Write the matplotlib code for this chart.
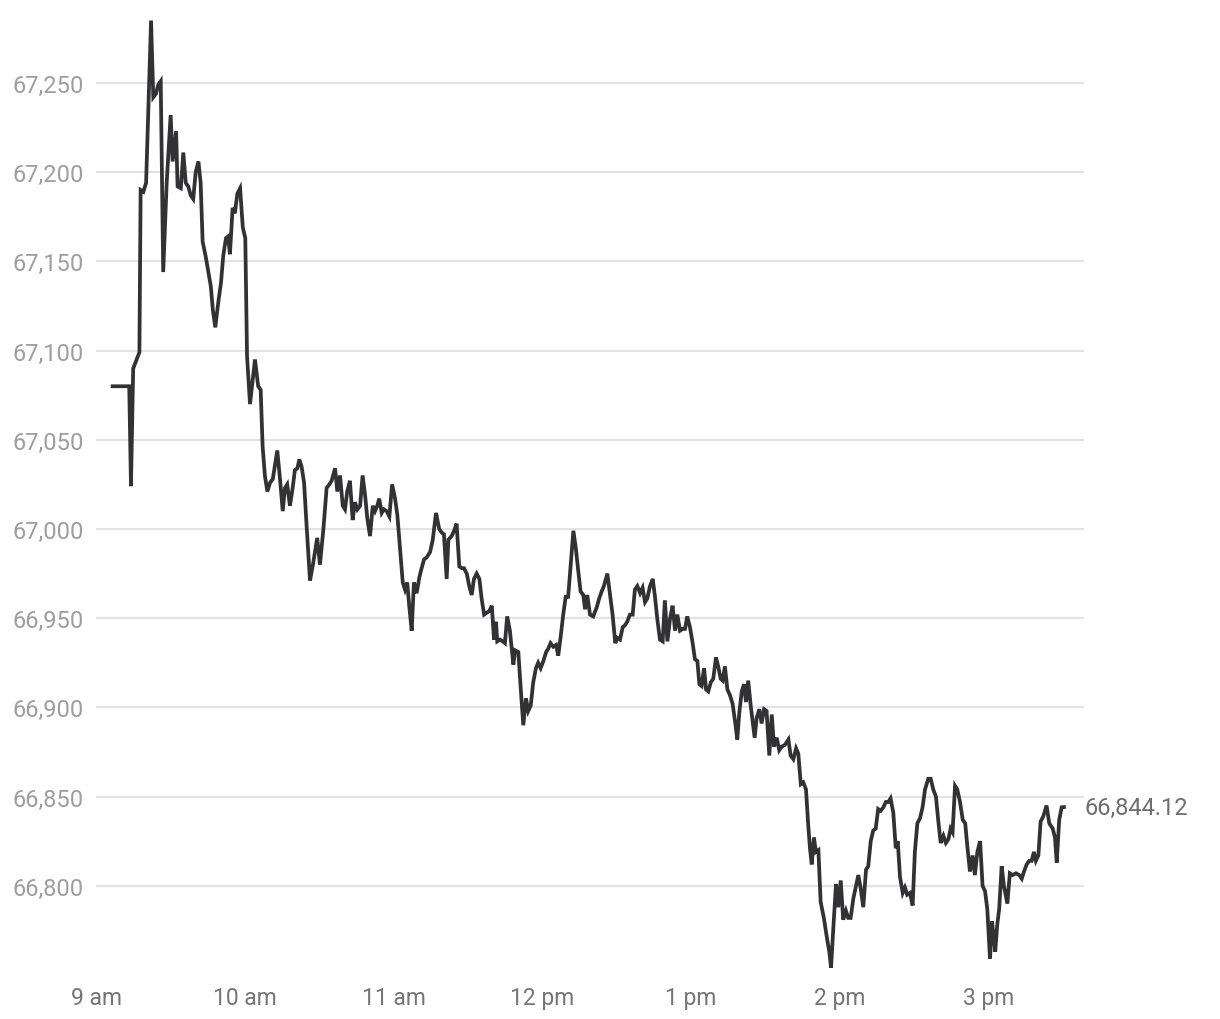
import matplotlib
matplotlib.use("Agg")
import matplotlib.pyplot as plt
from matplotlib.ticker import FuncFormatter, FixedLocator

# minutes after 9:00 am
minutes = [6.7, 13.4, 14.1, 15.0, 17.5, 18.0, 19.1, 20.2, 21.1, 22.2, 23.1, 24.2, 25.1, 26.1, 27.1, 28.5,
           30.1, 30.9, 32.3, 32.9, 34.2, 35.2, 36.2, 37.2, 38.2, 39.2, 40.2, 41.3, 42.2, 43.0, 44.2, 45.3,
           46.3, 47.1, 48.1, 49.3, 50.4, 51.3, 52.4, 53.3, 54.0, 55.1, 56.0, 57.0, 58.1, 59.2, 60.2,
           60.9, 62.1, 64.1, 65.4, 66.4, 67.2, 68.1, 69.1, 70.2, 71.3, 72.2, 73.1, 74.2, 75.3, 76.2, 77.1,
           78.2, 79.3, 80.2, 81.2, 82.0, 82.9, 83.9, 85.0, 86.3, 87.6, 89.2, 90.3, 91.7, 93.0, 94.1, 95.0,
           96.4, 97.3, 98.4, 99.5, 100.4, 101.3, 102.4, 103.5, 104.4, 105.4, 106.5, 107.5, 108.5, 109.4,
           110.5, 111.6, 112.5, 113.4, 114.2, 115.2, 116.1, 117.2, 118.3, 119.4, 120.6, 121.5,
           122.6, 123.7, 124.6, 125.5, 126.3, 127.3, 128.2, 129.3, 130.4, 131.3, 132.3, 133.3, 134.7,
           135.8, 137.1, 138.4, 139.4, 140.3, 141.4, 142.1, 143.4, 144.4, 145.4, 146.5, 147.5, 148.4,
           149.5, 150.5, 151.5, 152.4, 153.5, 154.6, 155.5, 156.5, 157.5, 158.6, 159.6, 160.5, 161.3,
           161.8, 162.9, 164.0, 164.9, 165.8, 166.9, 168.3, 169.0, 170.3, 171.2, 172.3, 173.4, 174.3,
           175.3, 176.3, 177.4, 178.3, 179.3, 180.4, 181.5, 182.4, 183.3, 184.4, 185.5, 186.4, 187.4,
           188.4, 189.4, 190.4, 191.4, 192.5, 193.5, 194.5,
           195.4, 196.5, 197.2, 198.1, 199.2, 200.5, 201.9, 202.9, 203.9, 204.8, 206.2, 207.3, 208.3,
           209.4, 210.2, 211.3, 212.4, 213.3, 214.2, 215.3, 216.4, 217.3, 218.3, 219.4, 220.4, 221.4,
           222.3, 223.4, 224.5, 225.4, 226.3, 227.4, 228.5, 229.4, 230.4, 231.5, 232.5, 233.5, 234.4,
           235.5, 236.6, 237.5, 238.4, 239.5, 240.6, 241.5, 242.5, 243.3, 244.2, 245.2, 246.0, 246.9,
           247.9, 248.9, 250.0, 250.9, 251.9, 252.7, 253.6, 254.6, 255.6, 256.7, 257.7, 258.6, 259.4,
           260.4, 261.3, 262.1, 263.0, 264.0, 264.8, 265.6, 266.4,
           267.5, 268.4, 269.4, 270.4, 271.5, 272.5, 273.4, 274.5, 275.5, 276.5, 277.8, 279.2, 280.1,
           281.2, 282.3, 283.2, 284.2, 285.2, 286.3, 287.2, 287.9, 288.6, 289.5, 290.3, 291.3, 292.2,
           293.5, 294.6, 295.7, 296.4, 297.3, 298.4, 299.3, 300.3, 301.3, 302.4, 303.3, 304.3, 305.4,
           306.5, 307.4, 308.3, 309.4, 310.5, 311.4, 312.4, 313.4, 314.4, 315.4, 316.4, 317.5, 318.5,
           319.5, 320.4, 321.5, 322.5, 323.3, 324.2, 325.3, 326.2, 327.1, 328.2, 329.3, 330.2, 331.2,
           332.3, 333.3, 334.3, 335.6, 336.6, 337.6, 338.7,
           339.6, 340.6, 341.7, 342.7, 343.7, 344.6, 345.4, 346.4, 347.3, 348.4, 349.5, 350.5, 351.3,
           352.4, 353.5, 354.4, 355.4, 356.5, 357.5, 358.5, 359.4, 360.5, 361.3, 362.1, 362.6, 363.4,
           364.2, 365.2, 366.1, 367.5, 368.5, 369.6, 371.0, 372.3, 373.3, 374.2, 375.3, 376.3, 377.3,
           378.2, 379.0, 380.0, 380.9, 382.0, 383.3, 384.4, 385.8, 386.7, 387.4, 388.4, 389.4, 390.3]

prices = [67080, 67080, 67024, 67090, 67099, 67190, 67189, 67194, 67235, 67285, 67242, 67244, 67249, 67251, 67144, 67194,
          67232, 67206, 67223, 67192, 67191, 67211, 67194, 67192, 67187, 67185, 67200, 67206, 67194, 67161, 67153, 67144,
          67136, 67123, 67113, 67127, 67138, 67153, 67163, 67164, 67154, 67180, 67177, 67188, 67191, 67169, 67163,
          67097, 67070, 67095, 67080, 67078, 67046, 67030, 67021, 67026, 67028, 67036, 67044, 67028, 67010, 67023, 67025,
          67013, 67023, 67033, 67034, 67039, 67035, 67026, 67000, 66971, 66981, 66995, 66980, 67000, 67023, 67025, 67027,
          67034, 67021, 67030, 67013, 67011, 67021, 67027, 67005, 67015, 67011, 67013, 67030, 67019, 67006,
          66996, 67013, 67010, 67013, 67017, 67009, 67011, 67010, 67007, 67025, 67017, 67008,
          66989, 66970, 66966, 66970, 66957, 66943, 66970, 66964, 66973, 66978, 66983, 66984, 66987,
          66994, 67009, 67000, 66998, 66997, 66972, 66994, 66996, 66999, 67003, 66979, 66978, 66978,
          66975, 66968, 66963, 66972, 66975, 66972, 66961, 66952, 66953, 66954, 66957, 66938, 66948,
          66937, 66938, 66937, 66936, 66951, 66943, 66924, 66932, 66931, 66912, 66890, 66905, 66898,
          66901, 66914, 66922, 66925, 66922, 66926, 66931, 66933, 66936, 66934, 66935, 66929, 66940,
          66952, 66962, 66962, 66980, 66999, 66989, 66976,
          66965, 66963, 66955, 66963, 66952, 66951, 66956, 66961, 66965, 66968, 66975, 66963, 66952,
          66936, 66939, 66938, 66945, 66946, 66948, 66952, 66952, 66966, 66968, 66964, 66967, 66959,
          66961, 66968, 66972, 66962, 66950, 66938, 66937, 66960, 66937, 66950, 66957, 66943, 66952,
          66943, 66944, 66944, 66951, 66945, 66936, 66927, 66926, 66913, 66912, 66922, 66910, 66909,
          66914, 66916, 66928, 66923, 66916, 66915, 66923, 66910, 66907, 66902, 66892, 66882, 66897,
          66909, 66913, 66903, 66915, 66901, 66892, 66883, 66894,
          66899, 66891, 66899, 66898, 66873, 66896, 66878, 66883, 66876, 66878, 66879, 66882, 66873,
          66871, 66877, 66874, 66857, 66858, 66854, 66834, 66821, 66812, 66827, 66819, 66820, 66791,
          66782, 66772, 66763, 66754, 66776, 66801, 66788, 66803, 66781, 66786, 66782, 66782, 66793,
          66800, 66806, 66799, 66788, 66809, 66811, 66825, 66831, 66832, 66843, 66842, 66844, 66847,
          66847, 66849, 66841, 66821, 66825, 66805, 66796, 66799, 66795, 66796, 66789, 66819, 66835,
          66838, 66844, 66854, 66860, 66860, 66854, 66850,
          66837, 66824, 66828, 66824, 66826, 66832, 66830, 66856, 66854, 66847, 66837, 66835, 66823,
          66808, 66817, 66806, 66819, 66825, 66800, 66797, 66787, 66759, 66780, 66770, 66763, 66778,
          66787, 66811, 66800, 66790, 66807, 66806, 66807, 66806, 66804, 66808, 66812, 66814, 66814,
          66819, 66814, 66817, 66836, 66839, 66845, 66835, 66832, 66827, 66813, 66837, 66844, 66844.12]

x_tick_minutes = [0, 60, 120, 180, 240, 300, 360]
x_tick_labels = ["9 am", "10 am", "11 am", "12 pm", "1 pm", "2 pm", "3 pm"]
y_ticks = [66800, 66850, 66900, 66950, 67000, 67050, 67100, 67150, 67200, 67250]
last_label = "66,844.12"

plt.rcParams['font.family'] = ['Roboto', 'DejaVu Sans']

fig = plt.figure(figsize=(12.2, 10.2), dpi=100)
ax = fig.add_axes([96 / 1220, 1 - 976 / 1020, (1084 - 96) / 1220, (976 - 12.6) / 1020])

ax.plot(minutes, prices, color="#323235", linewidth=2.7, solid_joinstyle="miter", zorder=3)

ax.set_xlim(0, 398.4)
ax.set_ylim(66750, 67290)

ax.yaxis.set_major_locator(FixedLocator(y_ticks))
ax.yaxis.set_major_formatter(FuncFormatter(lambda v, p: f"{v:,.0f}"))
ax.set_xticks(x_tick_minutes)
ax.set_xticklabels(x_tick_labels)

ax.grid(axis="y", color="#e3e3e3", linewidth=1.5, zorder=0)
ax.grid(axis="x", visible=False)
for s in ax.spines.values():
    s.set_visible(False)

ax.tick_params(axis="y", length=0, pad=60, labelsize=17, labelcolor="#9e9e9e")
for lab in ax.get_yticklabels():
    lab.set_horizontalalignment("left")
ax.tick_params(axis="x", length=0, pad=8, labelsize=16.5, labelcolor="#757575")

ax.annotate(last_label, xy=(minutes[-1], prices[-1]), xytext=(15, 0), textcoords="offset points",
            ha="left", va="center", fontsize=17, color="#6e6e6e", annotation_clip=False)

fig.savefig("out.png", dpi=100, facecolor="white")
